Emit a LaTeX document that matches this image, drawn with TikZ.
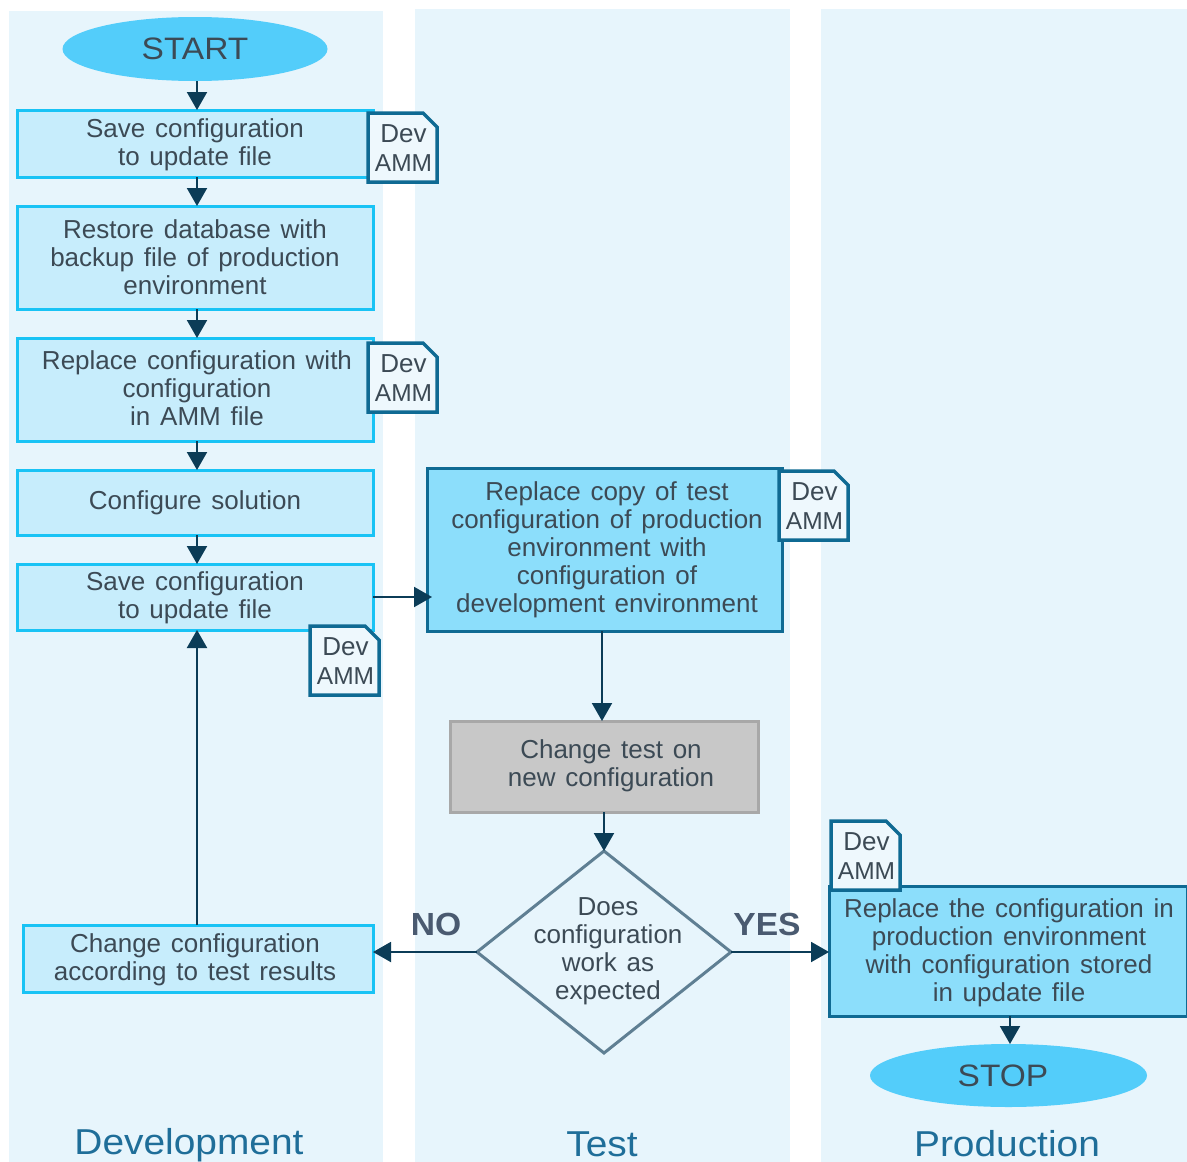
\documentclass[tikz,border=0pt]{standalone}
\usepackage{fontspec}
\setmainfont[WordSpace=1.35]{Liberation Sans}
\newfontfamily\widefont[FakeStretch=1.08]{Liberation Sans}
\newfontfamily\widebold[FakeStretch=1.05]{Liberation Sans Bold}
\usetikzlibrary{shapes.geometric,arrows.meta}
\definecolor{lanecol}{HTML}{E7F5FC}
\definecolor{inkcol}{HTML}{3C4A55}
\definecolor{flowcol}{HTML}{0B3C57}
\definecolor{doccol}{HTML}{0F6A93}
\definecolor{titlecol}{HTML}{1F6E99}
\definecolor{boxedge}{HTML}{19C3F5}
\definecolor{boxfill}{HTML}{C7EDFC}
\definecolor{strongfill}{HTML}{8CDEFB}
\definecolor{grayedge}{HTML}{A8A8A8}
\definecolor{grayfill}{HTML}{C8C8C8}
\definecolor{diamedge}{HTML}{5F7F93}
\definecolor{termfill}{HTML}{53CDFA}
\definecolor{answercol}{HTML}{4A5A70}
\definecolor{docfill}{HTML}{EEF8FD}
\tikzset{
  x=1pt,y=-1pt,
  every node/.style={outer sep=0pt,text=inkcol},
  lanebox/.style={fill=lanecol,draw=none},
  body/.style={font=\fontsize{26}{28}\selectfont,align=center,inner sep=0pt},
  lightbox/.style={draw=boxedge,line width=3pt,fill=boxfill},
  strongbox/.style={draw=doccol,line width=3pt,fill=strongfill},
  graybox/.style={draw=grayedge,line width=3pt,fill=grayfill},
  decision/.style={diamond,draw=diamedge,line width=3pt,fill=lanecol,inner sep=0pt},
  terminal/.style={ellipse,fill=termfill,inner sep=0pt},
  termtext/.style={inner sep=0pt,font=\widefont\fontsize{31}{33}\selectfont},
  laneTitle/.style={anchor=base,font=\widefont\fontsize{36}{38}\selectfont,text=titlecol,inner sep=0pt},
  answer/.style={font=\widebold\fontsize{32}{34}\selectfont,text=answercol,inner sep=0pt},
  docpage/.style={draw=doccol,line width=3.5pt,fill=docfill,line join=miter},
  doctext/.style={font=\fontsize{26}{28.5}\selectfont,align=center,inner sep=0pt},
  flow/.style={draw=flowcol,line width=2pt,-{Triangle[length=18pt,width=20pt]}},
}
\newcommand{\docicon}[3]{%
  \path[docpage] (#2,#3) -- ++(55,0) -- ++(14,14) -- ++(0,55) -- ++(-69,0) -- cycle;
  \node[doctext] (#1) at (#2+35.5,#3+35) {Dev\\{\fontsize{24.5}{28.5}\selectfont AMM}};
}
\begin{document}
\begin{tikzpicture}
\useasboundingbox (0,0) rectangle (1187,1162);
\fill[white] (0,0) rectangle (1187,1162);
\fill[lanebox] (9,11) rectangle (383,1162);
\fill[lanebox] (415,9) rectangle (790,1162);
\fill[lanebox] (821,9) rectangle (1187,1162);
\coordinate (spine) at (197,0);
\coordinate (testline) at (602,0);
\coordinate (testlow) at (604,0);
\coordinate (prodline) at (1010,0);

\node[terminal,minimum width=265pt,minimum height=64pt] (start) at (195,49) {};
\node[termtext] (starttext) at (195,49) {START};
\node[lightbox,minimum width=356pt,minimum height=67pt] (b1) at (195,143.5) {};
\node[lightbox,minimum width=356pt,minimum height=103pt] (b2) at (195,257.5) {};
\node[lightbox,minimum width=356pt,minimum height=103pt] (b3) at (195,389.5) {};
\node[lightbox,minimum width=356pt,minimum height=65pt] (b4) at (195,502.5) {};
\node[lightbox,minimum width=356pt,minimum height=66pt] (b5) at (195,597) {};
\node[lightbox,minimum width=350pt,minimum height=67pt] (chg) at (198,958.5) {};
\node[strongbox,minimum width=355pt,minimum height=163pt] (b6) at (604.5,549.5) {};
\node[graybox,minimum width=308pt,minimum height=91pt] (gray) at (604,766.5) {};
\node[decision,minimum width=254pt,minimum height=202pt] (dec) at (604,952) {};
\node[strongbox,minimum width=358pt,minimum height=130pt] (rep) at (1008,951) {};
\node[terminal,minimum width=277pt,minimum height=63pt] (stop) at (1008.5,1075.5) {};

\node[body] (b1t) at (195,145) {Save configuration\\to update file};
\node[body] (b2t) at (195,257.5) {Restore database with\\backup file of production\\environment};
\node[body] (b3t) at (197,388) {Replace configuration with\\configuration\\in AMM file};
\node[body] (b4t) at (195,503) {Configure solution};
\node[body] (b5t) at (195,597.5) {Save configuration\\to update file};
\node[body] (chgt) at (195,959.5) {Change configuration\\according to test results};
\node[body] (b6t) at (607,550) {Replace copy of test\\configuration of production\\environment with\\configuration of\\development environment};
\node[body] (graytext) at (611,766) {Change test on\\new configuration};
\node[body] (dectext) at (608,951) {Does\\configuration\\work as\\expected};
\node[body] (rept) at (1009,953) {Replace the configuration in\\production environment\\with configuration stored\\in update file};
\node[termtext] (stoptext) at (1003,1076) {STOP};

\docicon{d1}{368}{113}
\docicon{d2}{368}{343}
\docicon{d3}{779}{471}
\docicon{d4}{310}{626}
\docicon{d5}{831}{821}

\node[answer] (no) at (436,924) {NO};
\node[answer] (yes) at (767,924) {YES};
\node[laneTitle] (t1) at (189,1154) {Development};
\node[laneTitle] (t2) at (602,1156) {Test};
\node[laneTitle] (t3) at (1007,1156) {Production};

\draw[flow] (spine |- start.south) -- (spine |- b1.north);
\draw[flow] (spine |- b1.south) -- (spine |- b2.north);
\draw[flow] (spine |- b2.south) -- (spine |- b3.north);
\draw[flow] (spine |- b3.south) -- (spine |- b4.north);
\draw[flow] (spine |- b4.south) -- (spine |- b5.north);
\draw[flow] (spine |- chg.north) -- (spine |- b5.south);
\draw[flow,shorten >=-5pt] (b5.east) -- (b5.east -| b6.west);
\draw[flow] (testline |- b6.south) -- (testline |- gray.north);
\draw[flow] (testlow |- gray.south) -- (testlow |- dec.north);
\draw[flow] (dec.west) -- (dec.west -| chg.east);
\draw[flow] (dec.east) -- (dec.east -| rep.west);
\draw[flow] (prodline |- rep.south) -- (prodline |- stop.north);
\end{tikzpicture}
\end{document}
